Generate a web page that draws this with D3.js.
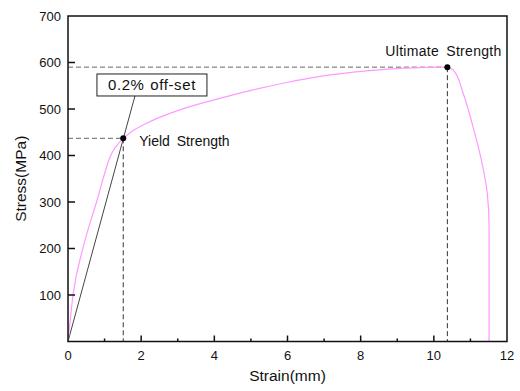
<!DOCTYPE html>
<html>
<head>
<meta charset="utf-8">
<script src="https://cdn.jsdelivr.net/npm/d3@7"></script>
<style>
  body { margin: 0; background: #fff; }
  text { font-family: "Liberation Sans", Arial, sans-serif; fill: #111; }
</style>
</head>
<body>
<div id="chart"></div>
<script>
// stress-strain curve (rising part up to the ultimate point, then the drop)
const strainRise = [0, 0.145, 0.42, 0.78, 1.15, 1.51, 1.75, 2.33, 3.24, 4.15, 5.06, 5.98, 6.89, 8.16, 9.07, 10.37];
const stressRise = [0, 104, 204, 300, 397, 437, 452, 476, 503, 523, 541, 557, 570, 582, 587.5, 590];
const strainDrop = [10.37, 10.53, 10.8, 11.07, 11.3, 11.46, 11.51, 11.51];
const stressDrop = [590, 584, 534, 462, 390, 319, 247, 0];

const xTicks = [0, 2, 4, 6, 8, 10, 12];
const xMinor = [1, 3, 5, 7, 9, 11];
const yTicks = [100, 200, 300, 400, 500, 600, 700];

const yieldPt = { x: 1.51, y: 437, label: "Yield Strength" };
const ultimatePt = { x: 10.37, y: 590, label: "Ultimate Strength" };
const offsetEnd = { x: 1.83, y: 528 };
const offsetLabel = "0.2% off-set";

const width = 520, height = 391;
const margin = { top: 16, right: 13, bottom: 50, left: 68 };

const svg = d3.select("#chart").append("svg")
  .attr("width", width)
  .attr("height", height);

const x = d3.scaleLinear().domain([0, 12]).range([margin.left, width - margin.right]);
const y = d3.scaleLinear().domain([0, 700]).range([height - margin.bottom + 0.5, margin.top]);

const rise = strainRise.map((d, i) => ({ x: d, y: stressRise[i] }));
const drop = strainDrop.map((d, i) => ({ x: d, y: stressDrop[i] }));

// dashed guide lines
const guides = svg.append("g").attr("fill", "none").attr("stroke-width", 1).attr("stroke-dasharray", "5,3");
[yieldPt, ultimatePt].forEach(p => {
  guides.append("line")
    .attr("x1", x(0)).attr("x2", x(p.x))
    .attr("y1", y(p.y)).attr("y2", y(p.y))
    .attr("stroke", "#666");
  guides.append("line")
    .attr("x1", x(p.x)).attr("x2", x(p.x))
    .attr("y1", y(p.y)).attr("y2", y(0))
    .attr("stroke", "#333");
});

// offset line
svg.append("line")
  .attr("x1", x(0)).attr("y1", y(0))
  .attr("x2", x(offsetEnd.x)).attr("y2", y(offsetEnd.y))
  .attr("stroke", "#444")
  .attr("stroke-width", 1);

// curve
const lineRise = d3.line().x(d => x(d.x)).y(d => y(d.y)).curve(d3.curveMonotoneX);
const lineDrop = d3.line().x(d => x(d.x)).y(d => y(d.y)).curve(d3.curveMonotoneY);

svg.append("path")
  .datum(rise)
  .attr("fill", "none")
  .attr("stroke", "#ff99ff")
  .attr("stroke-width", 1.2)
  .attr("d", lineRise);

svg.append("path")
  .datum(drop)
  .attr("fill", "none")
  .attr("stroke", "#ff99ff")
  .attr("stroke-width", 1.2)
  .attr("d", lineDrop);

// points
svg.selectAll(".pt")
  .data([yieldPt, ultimatePt])
  .enter().append("circle")
  .attr("class", "pt")
  .attr("cx", d => x(d.x))
  .attr("cy", d => y(d.y))
  .attr("r", 3)
  .attr("fill", "#000");

// annotations
svg.append("text")
  .attr("x", x(yieldPt.x) + 16)
  .attr("y", y(yieldPt.y) + 8)
  .attr("font-size", "14px")
  .attr("word-spacing", "3px")
  .text(yieldPt.label);

svg.append("text")
  .attr("x", x(ultimatePt.x) - 62)
  .attr("y", y(ultimatePt.y) - 11)
  .attr("font-size", "14px")
  .attr("letter-spacing", "0.3px")
  .attr("word-spacing", "3px")
  .text(ultimatePt.label);

const boxX = x(offsetEnd.x) - 38, boxY = y(offsetEnd.y) - 22;
svg.append("rect")
  .attr("x", boxX).attr("y", boxY)
  .attr("width", 110).attr("height", 22)
  .attr("fill", "#fff")
  .attr("stroke", "#222")
  .attr("stroke-width", 1);
svg.append("text")
  .attr("x", boxX + 55).attr("y", boxY + 16.5)
  .attr("text-anchor", "middle")
  .attr("font-size", "15px")
  .attr("letter-spacing", "0.6px")
  .attr("word-spacing", "1px")
  .text(offsetLabel);

// axes frame
const frame = svg.append("g").attr("stroke", "#111").attr("stroke-width", 1.5);
frame.append("rect")
  .attr("x", x(0)).attr("y", y(700))
  .attr("width", x(12) - x(0)).attr("height", y(0) - y(700))
  .attr("fill", "none");

// x ticks (inward)
frame.selectAll(".xt").data(xTicks.slice(1, -1)).enter().append("line")
  .attr("x1", d => x(d)).attr("x2", d => x(d))
  .attr("y1", y(0)).attr("y2", y(0) - 6);
frame.selectAll(".xm").data(xMinor).enter().append("line")
  .attr("x1", d => x(d)).attr("x2", d => x(d))
  .attr("y1", y(0)).attr("y2", y(0) - 3);
// y ticks
frame.selectAll(".yt").data(yTicks.slice(0, -1)).enter().append("line")
  .attr("x1", x(0)).attr("x2", x(0) + 7)
  .attr("y1", d => y(d)).attr("y2", d => y(d));

svg.selectAll(".xl").data(xTicks).enter().append("text")
  .attr("x", d => x(d))
  .attr("y", y(0) + 18)
  .attr("text-anchor", "middle")
  .attr("font-size", "13px")
  .text(d => d);

svg.selectAll(".yl").data(yTicks).enter().append("text")
  .attr("x", x(0) - 7)
  .attr("y", d => y(d) + 4.5)
  .attr("text-anchor", "end")
  .attr("font-size", "13px")
  .text(d => d);

svg.append("text")
  .attr("x", (x(0) + x(12)) / 2)
  .attr("y", 381)
  .attr("text-anchor", "middle")
  .attr("font-size", "15.5px")
  .text("Strain(mm)");

svg.append("text")
  .attr("transform", `translate(26, ${(y(0) + y(700)) / 2}) rotate(-90)`)
  .attr("text-anchor", "middle")
  .attr("font-size", "15.5px")
  .text("Stress(MPa)");
</script>
</body>
</html>
